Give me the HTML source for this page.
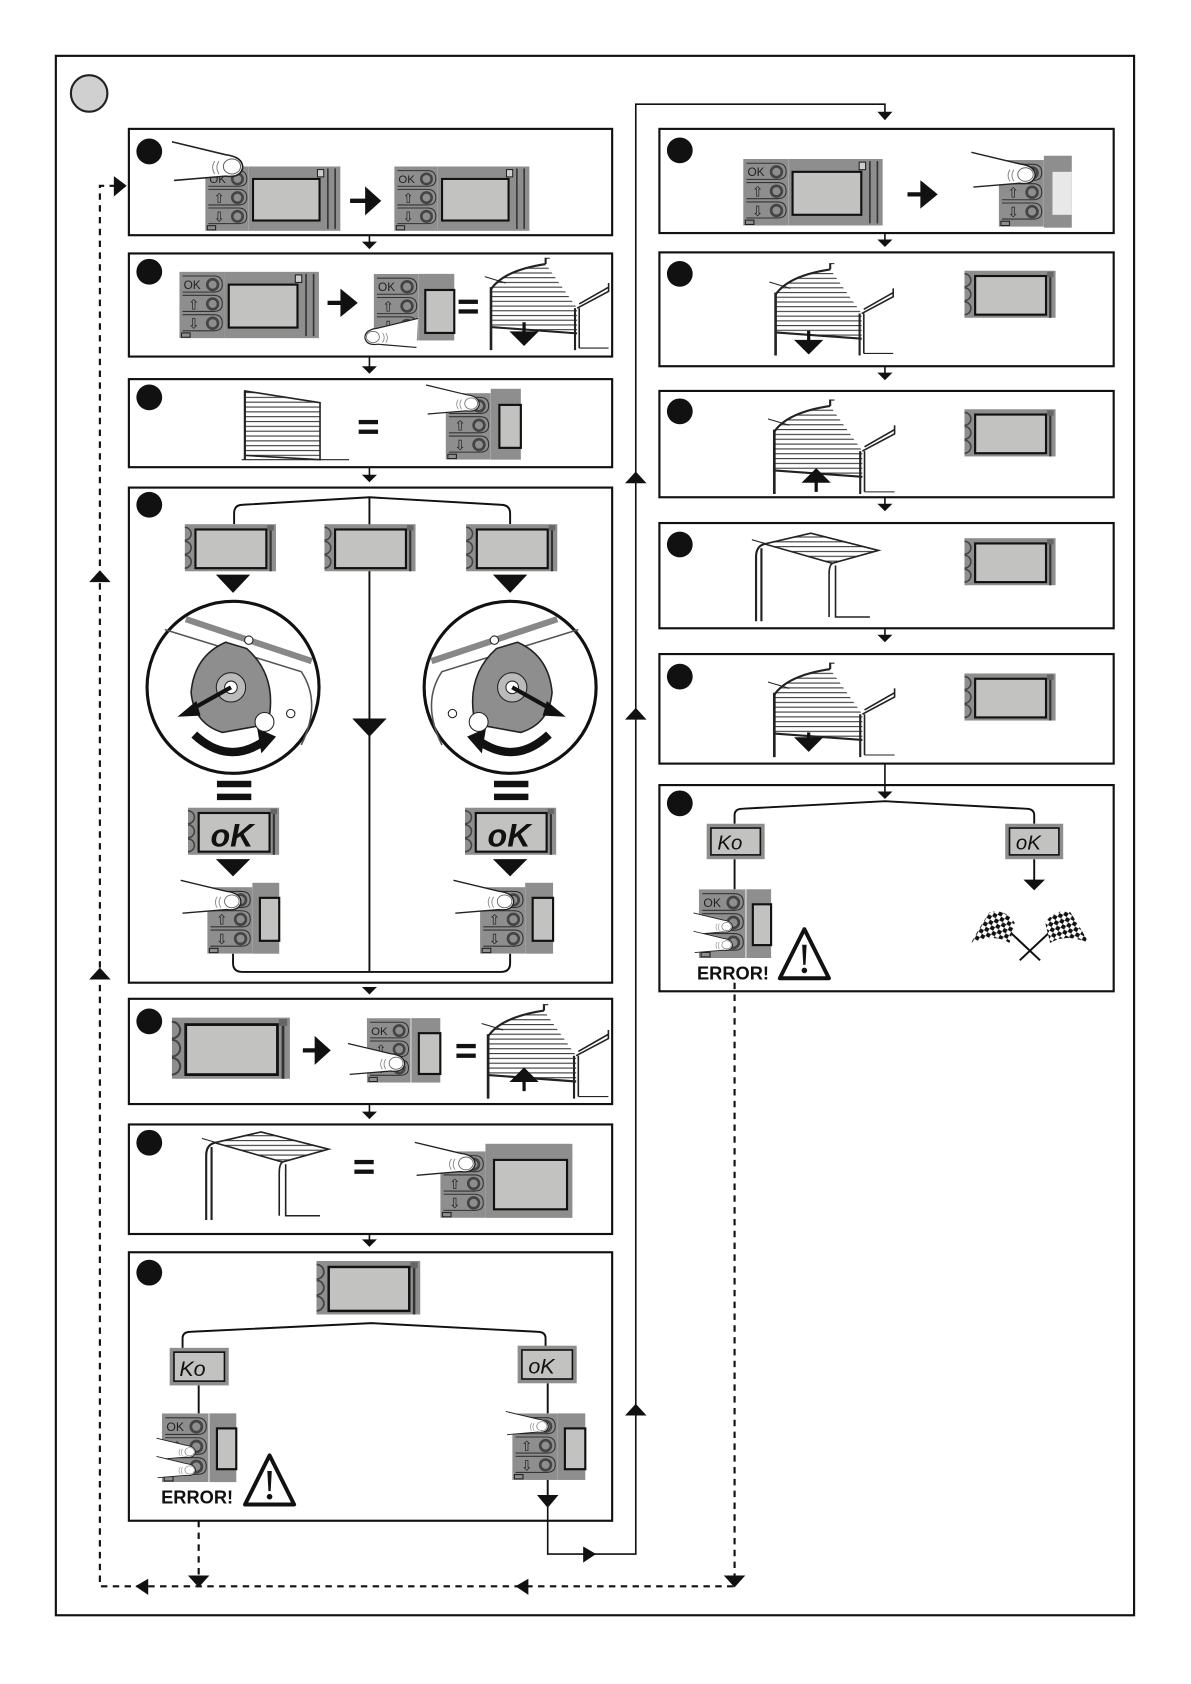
<!DOCTYPE html>
<html><head><meta charset="utf-8"><style>
html,body{margin:0;padding:0;background:#fff}
svg{display:block}
text{font-family:"Liberation Sans",sans-serif}
</style></head><body>
<svg width="1191" height="1684" viewBox="0 0 1109 1568" preserveAspectRatio="none" xmlns="http://www.w3.org/2000/svg">
<defs>
<pattern id="sl" width="4" height="4.5" patternUnits="userSpaceOnUse"><rect width="4" height="4.5" fill="#fff"/><line x1="0" y1="1" x2="4" y2="1" stroke="#333" stroke-width="1"/></pattern>
<pattern id="chk" width="8" height="8" patternUnits="userSpaceOnUse" patternTransform="rotate(30)"><rect width="8" height="8" fill="#fff"/><rect width="4" height="4" fill="#111"/><rect x="4" y="4" width="4" height="4" fill="#111"/></pattern>
<symbol id="kp" viewBox="0 0 42 62">
<rect width="42" height="62" fill="#8e8e8e"/>
<path d="M3,4 H32 Q40,4 40,12 Q40,19 32,19 H3" fill="#8e8e8e" stroke="#333"/>
<path d="M3,22 H32 Q40,22 40,30 Q40,37 32,37 H3" fill="#8e8e8e" stroke="#333"/>
<path d="M3,40 H32 Q40,40 40,48 Q40,55 32,55 H3" fill="#8e8e8e" stroke="#333"/>
<text x="4" y="16" font-size="11" fill="#222">OK</text>
<text x="8" y="35" font-size="13" fill="#222">⇧</text>
<text x="8" y="53" font-size="13" fill="#222">⇩</text>
<circle cx="31" cy="12" r="5" fill="none" stroke="#444" stroke-width="2.5"/>
<circle cx="31" cy="30" r="5" fill="none" stroke="#444" stroke-width="2.5"/>
<circle cx="31" cy="48" r="5" fill="none" stroke="#444" stroke-width="2.5"/>
<rect x="2" y="57" width="8" height="4" fill="none" stroke="#222"/>
</symbol>
<symbol id="scr" viewBox="0 0 85 44">
<rect width="85" height="44" fill="#8e8e8e"/>
<path d="M0,3 A6,6 0 0 1 0,15 M0,16 A6,6 0 0 1 0,28 M0,29 A6,6 0 0 1 0,41" fill="none" stroke="#444" stroke-width="1.5"/>
<rect x="10" y="5" width="66" height="36" fill="#c2c3c0" stroke="#111" stroke-width="2"/>
<rect x="77" y="1" width="6" height="5" fill="#666"/>
<line x1="80" y1="6" x2="80" y2="44" stroke="#333" stroke-width="2"/>
</symbol>
<symbol id="dev" viewBox="0 0 130 62">
<use href="#kp" x="0" y="0" width="42" height="62"/>
<rect x="42" y="0" width="88" height="62" fill="#8e8e8e"/>
<rect x="46" y="12" width="64" height="40" fill="#c2c3c0" stroke="#111" stroke-width="2"/>
<rect x="108" y="3" width="6" height="7" fill="#ccc" stroke="#222"/>
<line x1="118" y1="2" x2="118" y2="60" stroke="#333" stroke-width="1.5"/>
<line x1="125" y1="2" x2="125" y2="60" stroke="#333" stroke-width="1.5"/>
</symbol>
<symbol id="fing" viewBox="0 0 70 40">
<path d="M0,2 L50,14 Q66,16 66,26 Q64,36 50,34 L2,38" fill="#fff" stroke="#222" stroke-width="1.5"/>
<ellipse cx="56" cy="25" rx="8" ry="7" fill="#fff" stroke="#666"/>
<path d="M40,20 Q36,26 40,32 M44,20 Q40,26 44,32" fill="none" stroke="#888"/>
</symbol>
<symbol id="door" viewBox="0 0 120 90">
<path d="M6,30 Q18,12 58,6 L88,48 L88,72 L6,66 Z" fill="url(#sl)"/>
<path d="M6,30 Q18,12 58,6 M58,6 L58,0 L62,0" fill="none" stroke="#222" stroke-width="2"/>
<path d="M88,48 L118,32 L118,24 M90,44 L118,28" fill="none" stroke="#222" stroke-width="1.5"/>
<line x1="6" y1="28" x2="6" y2="88" stroke="#222" stroke-width="2.5"/>
<line x1="86" y1="48" x2="86" y2="88" stroke="#222" stroke-width="2"/>
<line x1="90" y1="48" x2="90" y2="86" stroke="#222" stroke-width="1.5"/>
<line x1="6" y1="66" x2="88" y2="72" stroke="#222" stroke-width="2"/>
<line x1="90" y1="86" x2="118" y2="86" stroke="#222"/>
<line x1="0" y1="18" x2="20" y2="24" stroke="#222"/>
</symbol>
<symbol id="odoor" viewBox="0 0 125 85">
<path d="M12,12 L55,2 L118,18 L75,30 Z" fill="url(#sl)" stroke="#222" stroke-width="1.5"/>
<path d="M12,12 Q4,14 4,24 L4,84 M9,16 L9,84" fill="none" stroke="#222" stroke-width="2"/>
<path d="M75,30 Q72,32 72,40 L72,80 M78,32 L78,80 L110,80" fill="none" stroke="#222" stroke-width="1.5"/>
<line x1="0" y1="8" x2="14" y2="12" stroke="#222"/>
</symbol>
<symbol id="warn" viewBox="0 0 48 50">
<path d="M24,3 L46,47 L2,47 Z" fill="#fff" stroke="#111" stroke-width="3.5" stroke-linejoin="round"/>
<path d="M22,17 L26,17 L25,35 L23,35 Z" fill="#111"/><circle cx="24" cy="40" r="2.5" fill="#111"/>
</symbol>
<symbol id="knob" viewBox="0 0 170 170">
<circle cx="85" cy="85" r="82" fill="#fff" stroke="#111" stroke-width="3"/>
<path d="M20,30 L150,70 Q170,100 150,140" fill="none" stroke="#555" stroke-width="1.5"/>
<path d="M40,20 L160,60" fill="none" stroke="#888" stroke-width="6"/>
<path d="M78,42 L98,48 Q125,72 120,110 L108,122 L75,128 Q48,120 45,90 Q48,55 78,42 Z" fill="#8e8e8e" stroke="#222" stroke-width="1.5"/>
<circle cx="83" cy="85" r="14" fill="#bbb" stroke="#222"/><circle cx="83" cy="85" r="6" fill="#fff" stroke="#222"/>
<line x1="83" y1="85" x2="42" y2="108" stroke="#111" stroke-width="4"/><path d="M32,113 L50,98 L54,112 Z" fill="#111"/>
<path d="M48,130 Q80,160 115,136" fill="none" stroke="#111" stroke-width="8"/><path d="M108,124 L126,132 L112,148 Z" fill="#111"/>
<circle cx="115" cy="118" r="9" fill="#fff" stroke="#222"/>
<circle cx="140" cy="110" r="4" fill="#fff" stroke="#222"/><circle cx="100" cy="40" r="4" fill="#fff" stroke="#222"/>
</symbol>
<symbol id="flags" viewBox="0 0 120 55">
<line x1="20" y1="5" x2="70" y2="52" stroke="#111" stroke-width="2"/><line x1="100" y1="5" x2="50" y2="52" stroke="#111" stroke-width="2"/>
<path d="M20,5 Q35,0 45,15 L40,35 Q25,25 2,35 Q10,20 20,5Z" fill="url(#chk)"/>
<path d="M100,5 Q85,0 75,15 L80,35 Q95,25 118,35 Q110,20 100,5Z" fill="url(#chk)"/>
</symbol>
</defs>

<rect x="52" y="52" width="1004" height="1452" fill="none" stroke="#111" stroke-width="2"/>
<circle cx="83" cy="87" r="17" fill="#d0d0d0" stroke="#222" stroke-width="2"/>

<g fill="none" stroke="#111" stroke-width="2">
<rect x="120" y="120" width="450" height="99"/>
<rect x="120" y="236" width="450" height="96"/>
<rect x="120" y="353" width="450" height="82"/>
<rect x="120" y="454" width="450" height="461"/>
<rect x="120" y="930" width="450" height="98"/>
<rect x="120" y="1047" width="450" height="102"/>
<rect x="120" y="1166" width="450" height="250"/>
<rect x="614" y="120" width="423" height="97"/>
<rect x="614" y="235" width="423" height="106"/>
<rect x="614" y="364" width="423" height="99"/>
<rect x="614" y="487" width="423" height="98"/>
<rect x="614" y="609" width="423" height="102"/>
<rect x="614" y="731" width="423" height="192"/>
</g>
<g fill="#111">
<circle cx="139" cy="141" r="12"/><circle cx="139" cy="253" r="12"/><circle cx="139" cy="370" r="12"/><circle cx="139" cy="470" r="12"/><circle cx="139" cy="951" r="12"/><circle cx="139" cy="1064" r="12"/><circle cx="139" cy="1185" r="12"/>
<circle cx="633" cy="140" r="12"/><circle cx="633" cy="255" r="12"/><circle cx="633" cy="383" r="12"/><circle cx="633" cy="507" r="12"/><circle cx="633" cy="630" r="12"/><circle cx="633" cy="748" r="12"/>
</g>

<g stroke="#111" stroke-width="1.5" fill="#111">
<line x1="344" y1="219" x2="344" y2="226"/><path d="M337,225 H351 L344,232Z" stroke="none"/>
<line x1="344" y1="332" x2="344" y2="342"/><path d="M337,341 H351 L344,348Z" stroke="none"/>
<line x1="344" y1="435" x2="344" y2="443"/><path d="M337,442 H351 L344,449Z" stroke="none"/>
<path d="M337,919 H351 L344,926Z" stroke="none"/>
<line x1="344" y1="1028" x2="344" y2="1036"/><path d="M337,1035 H351 L344,1042Z" stroke="none"/>
<line x1="344" y1="1149" x2="344" y2="1155"/><path d="M337,1154 H351 L344,1161Z" stroke="none"/>
<line x1="824" y1="217" x2="824" y2="224"/><path d="M817,223 H831 L824,230Z" stroke="none"/>
<line x1="824" y1="341" x2="824" y2="348"/><path d="M817,347 H831 L824,354Z" stroke="none"/>
<line x1="824" y1="463" x2="824" y2="470"/><path d="M817,469 H831 L824,476Z" stroke="none"/>
<line x1="824" y1="585" x2="824" y2="592"/><path d="M817,591 H831 L824,598Z" stroke="none"/>
<line x1="824" y1="711" x2="824" y2="738"/><path d="M817,737 H831 L824,744Z" stroke="none"/>
<polyline points="510,1395 510,1447 592,1447 592,97 824,97 824,106" fill="none"/>
<path d="M817,104 H831 L824,112Z" stroke="none"/>
<path d="M543,1440 L555,1447 L543,1455Z" stroke="none"/>
<path d="M582,450 L602,450 L592,439Z" stroke="none"/>
<path d="M582,670 L602,670 L592,659Z" stroke="none"/>
<path d="M582,1318 L602,1318 L592,1307Z" stroke="none"/>
</g>
<g stroke="#111" stroke-width="2" fill="none" stroke-dasharray="6,5">
<polyline points="108,173 93,173 93,1477 684,1477"/>
<line x1="684" y1="915" x2="684" y2="1470"/>
<line x1="185" y1="1416" x2="185" y2="1470"/>
</g>
<g fill="#111">
<path d="M106,164 L118,173 L106,183Z"/>
<path d="M83,542 L103,542 L93,531Z"/><path d="M83,912 L103,912 L93,901Z"/>
<path d="M138,1470 L126,1477 L138,1485Z"/><path d="M492,1470 L480,1477 L492,1485Z"/>
<path d="M175,1467 L195,1467 L185,1478Z"/><path d="M674,1467 L694,1467 L684,1478Z"/>
</g>

<use href="#dev" x="190" y="155" width="128" height="60"/>
<use href="#fing" x="160" y="128" width="70" height="44"/>
<path d="M326,187 H342 M342,178 L352,187 L342,196Z" stroke="#111" stroke-width="4" fill="#111"/>
<use href="#dev" x="365" y="155" width="130" height="60"/>
<use href="#dev" x="167" y="253" width="130" height="62"/>
<path d="M305,282 H320 M319,273 L330,282 L319,291Z" stroke="#111" stroke-width="4" fill="#111"/>
<use href="#kp" x="348" y="255" width="42" height="62"/>
<rect x="390" y="255" width="33" height="62" fill="#8e8e8e"/><rect x="396" y="270" width="27" height="40" fill="#c2c3c0" stroke="#111" stroke-width="2"/>
<g transform="translate(398,295) scale(-1,1)"><use href="#fing" x="0" y="0" width="70" height="30"/></g>
<rect x="427" y="279" width="18" height="4" fill="#111"/><rect x="427" y="288" width="18" height="4" fill="#111"/>
<use href="#door" x="450" y="240" width="120" height="88"/>
<path d="M488,300 V312 M478,310 H498 L488,320Z" stroke="#111" stroke-width="3" fill="#111"/>
<path d="M228,364 L298,375 L298,428 L228,424Z" fill="url(#sl)" stroke="#222" stroke-width="1.5"/>
<line x1="228" y1="364" x2="228" y2="428" stroke="#222" stroke-width="2"/><line x1="225" y1="428" x2="325" y2="428" stroke="#222"/>
<rect x="334" y="391" width="18" height="4" fill="#111"/><rect x="334" y="400" width="18" height="4" fill="#111"/>
<use href="#kp" x="415" y="366" width="42" height="62"/>
<rect x="457" y="362" width="28" height="66" fill="#8e8e8e"/><rect x="465" y="377" width="20" height="40" fill="#c2c3c0" stroke="#111" stroke-width="2"/>
<use href="#fing" x="383" y="357" width="80" height="30"/>
<g fill="none" stroke="#111" stroke-width="1.8">
<path d="M218,488 V478 Q218,470 226,470 L344,463 L466,470 Q475,470 475,478 V488"/>
<line x1="344" y1="463" x2="344" y2="905"/>
<path d="M217,888 V897 Q217,905 226,905 H466 Q475,905 475,897 V888"/>
</g>
<use href="#scr" x="172" y="488" width="85" height="44"/>
<use href="#scr" x="302" y="488" width="85" height="44"/>
<use href="#scr" x="434" y="488" width="85" height="44"/>
<path d="M201,535 H233 L217,552Z" fill="#111"/><path d="M459,535 H491 L475,552Z" fill="#111"/>
<path d="M328,669 H360 L344,686Z" fill="#111"/>
<use href="#knob" x="134" y="557" width="166" height="166"/>
<g transform="translate(392,557)"><g transform="translate(166,0) scale(-1,1)"><use href="#knob" x="0" y="0" width="166" height="166"/></g></g>
<rect x="202" y="727" width="32" height="6" fill="#111"/><rect x="202" y="739" width="32" height="6" fill="#111"/>
<rect x="460" y="727" width="32" height="6" fill="#111"/><rect x="460" y="739" width="32" height="6" fill="#111"/>
<use href="#scr" x="175" y="752" width="85" height="44"/>
<use href="#scr" x="433" y="752" width="85" height="44"/>
<text x="196" y="788" font-size="30" font-weight="bold" font-style="italic" fill="#111">oK</text>
<text x="454" y="788" font-size="30" font-weight="bold" font-style="italic" fill="#111">oK</text>
<path d="M201,800 H233 L217,816Z" fill="#111"/><path d="M459,800 H491 L475,816Z" fill="#111"/>
<use href="#kp" x="193" y="826" width="42" height="62"/><rect x="235" y="822" width="25" height="66" fill="#8e8e8e"/><rect x="242" y="836" width="18" height="40" fill="#c2c3c0" stroke="#111" stroke-width="2"/>
<use href="#fing" x="158" y="818" width="80" height="34"/>
<use href="#kp" x="447" y="826" width="42" height="62"/><rect x="489" y="822" width="26" height="66" fill="#8e8e8e"/><rect x="496" y="836" width="19" height="40" fill="#c2c3c0" stroke="#111" stroke-width="2"/>
<use href="#fing" x="412" y="818" width="80" height="34"/>
<g transform="translate(160,946)"><use href="#scr" x="0" y="0" width="110" height="60"/></g>
<path d="M282,978 H296 M295,969 L305,978 L295,987Z" stroke="#111" stroke-width="4" fill="#111"/>
<use href="#kp" x="341" y="948" width="42" height="60"/><rect x="383" y="948" width="27" height="60" fill="#8e8e8e"/><rect x="390" y="962" width="20" height="38" fill="#c2c3c0" stroke="#111" stroke-width="2"/>
<use href="#fing" x="318" y="970" width="68" height="32"/>
<rect x="425" y="972" width="18" height="4" fill="#111"/><rect x="425" y="981" width="18" height="4" fill="#111"/>
<use href="#door" x="447" y="935" width="123" height="90"/>
<path d="M488,1016 V1003 M478,1006 H498 L488,996Z" stroke="#111" stroke-width="3" fill="#111"/>
<use href="#odoor" x="188" y="1052" width="125" height="85"/>
<rect x="330" y="1080" width="18" height="4" fill="#111"/><rect x="330" y="1089" width="18" height="4" fill="#111"/>
<use href="#kp" x="410" y="1072" width="42" height="62"/><rect x="452" y="1065" width="81" height="69" fill="#8e8e8e"/><rect x="460" y="1080" width="68" height="46" fill="#c2c3c0" stroke="#111" stroke-width="2"/>
<use href="#fing" x="375" y="1062" width="82" height="34"/>
<use href="#scr" x="288" y="1174" width="110" height="50"/>
<g fill="none" stroke="#111" stroke-width="1.8">
<path d="M170,1255 V1246 Q170,1240 178,1240 L346,1232 L500,1240 Q508,1240 508,1246 V1255"/>
<line x1="185" y1="1290" x2="185" y2="1316"/><line x1="510" y1="1288" x2="510" y2="1316"/><line x1="510" y1="1378" x2="510" y2="1392"/>
</g>
<rect x="158" y="1255" width="55" height="35" fill="#8e8e8e"/><rect x="162" y="1259" width="47" height="27" fill="#c2c3c0" stroke="#111" stroke-width="1.5"/>
<text x="167" y="1281" font-size="20" font-style="italic" fill="#111">Ko</text>
<rect x="482" y="1253" width="55" height="35" fill="#8e8e8e"/><rect x="486" y="1257" width="47" height="27" fill="#c2c3c0" stroke="#111" stroke-width="1.5"/>
<text x="492" y="1279" font-size="20" font-style="italic" fill="#111">oK</text>
<use href="#kp" x="150" y="1316" width="45" height="64"/><rect x="195" y="1316" width="25" height="64" fill="#8e8e8e"/><rect x="202" y="1330" width="18" height="38" fill="#c2c3c0" stroke="#111" stroke-width="2"/>
<use href="#fing" x="135" y="1338" width="60" height="22"/><use href="#fing" x="135" y="1355" width="60" height="22"/>
<text x="150" y="1400" font-size="17" font-weight="bold" fill="#111">ERROR!</text>
<use href="#warn" x="226" y="1352" width="50" height="52"/>
<use href="#kp" x="477" y="1316" width="42" height="62"/><rect x="519" y="1316" width="26" height="62" fill="#8e8e8e"/><rect x="526" y="1330" width="19" height="38" fill="#c2c3c0" stroke="#111" stroke-width="2"/>
<use href="#fing" x="462" y="1313" width="60" height="24"/>
<path d="M500,1392 H520 L510,1404Z" fill="#111"/>
<use href="#dev" x="692" y="148" width="130" height="62"/>
<path d="M845,181 H860 M859,172 L870,181 L859,190Z" stroke="#111" stroke-width="4" fill="#111"/>
<use href="#kp" x="930" y="148" width="42" height="64"/><rect x="972" y="145" width="26" height="67" fill="#8e8e8e"/><rect x="980" y="160" width="18" height="40" fill="#e8e8e8"/>
<use href="#fing" x="895" y="140" width="82" height="36"/>
<use href="#door" x="715" y="245" width="120" height="88"/>
<path d="M753,308 V320 M743,318 H763 L753,328Z" stroke="#111" stroke-width="3" fill="#111"/>
<use href="#scr" x="898" y="252" width="85" height="44"/>
<use href="#door" x="715" y="372" width="120" height="90"/>
<path d="M760,458 V446 M750,448 H770 L760,438Z" stroke="#111" stroke-width="3" fill="#111"/>
<use href="#scr" x="898" y="381" width="85" height="44"/>
<use href="#odoor" x="700" y="493" width="125" height="88"/>
<use href="#scr" x="898" y="501" width="85" height="44"/>
<use href="#door" x="715" y="617" width="120" height="90"/>
<path d="M753,682 V692 M743,688 H763 L753,698Z" stroke="#111" stroke-width="3" fill="#111"/>
<use href="#scr" x="898" y="627" width="85" height="44"/>
<g fill="none" stroke="#111" stroke-width="1.8">
<path d="M684,767 V759 Q684,753 692,753 L824,746 L955,753 Q963,753 963,759 V767"/>
<line x1="684" y1="800" x2="684" y2="828"/><line x1="963" y1="800" x2="963" y2="820"/>
</g>
<path d="M953,819 H973 L963,829Z" fill="#111"/>
<rect x="658" y="767" width="54" height="33" fill="#8e8e8e"/><rect x="662" y="771" width="46" height="25" fill="#c2c3c0" stroke="#111" stroke-width="1.5"/>
<text x="668" y="791" font-size="19" font-style="italic" fill="#111">Ko</text>
<rect x="936" y="767" width="54" height="33" fill="#8e8e8e"/><rect x="940" y="771" width="46" height="25" fill="#c2c3c0" stroke="#111" stroke-width="1.5"/>
<text x="946" y="791" font-size="19" font-style="italic" fill="#111">oK</text>
<use href="#kp" x="650" y="828" width="45" height="64"/><rect x="695" y="828" width="23" height="64" fill="#8e8e8e"/><rect x="701" y="842" width="17" height="38" fill="#c2c3c0" stroke="#111" stroke-width="2"/>
<use href="#fing" x="635" y="849" width="60" height="22"/><use href="#fing" x="635" y="866" width="60" height="22"/>
<text x="649" y="912" font-size="17" font-weight="bold" fill="#111">ERROR!</text>
<use href="#warn" x="724" y="862" width="50" height="52"/>
<use href="#flags" x="900" y="845" width="118" height="52"/>
</svg>
</body></html>
